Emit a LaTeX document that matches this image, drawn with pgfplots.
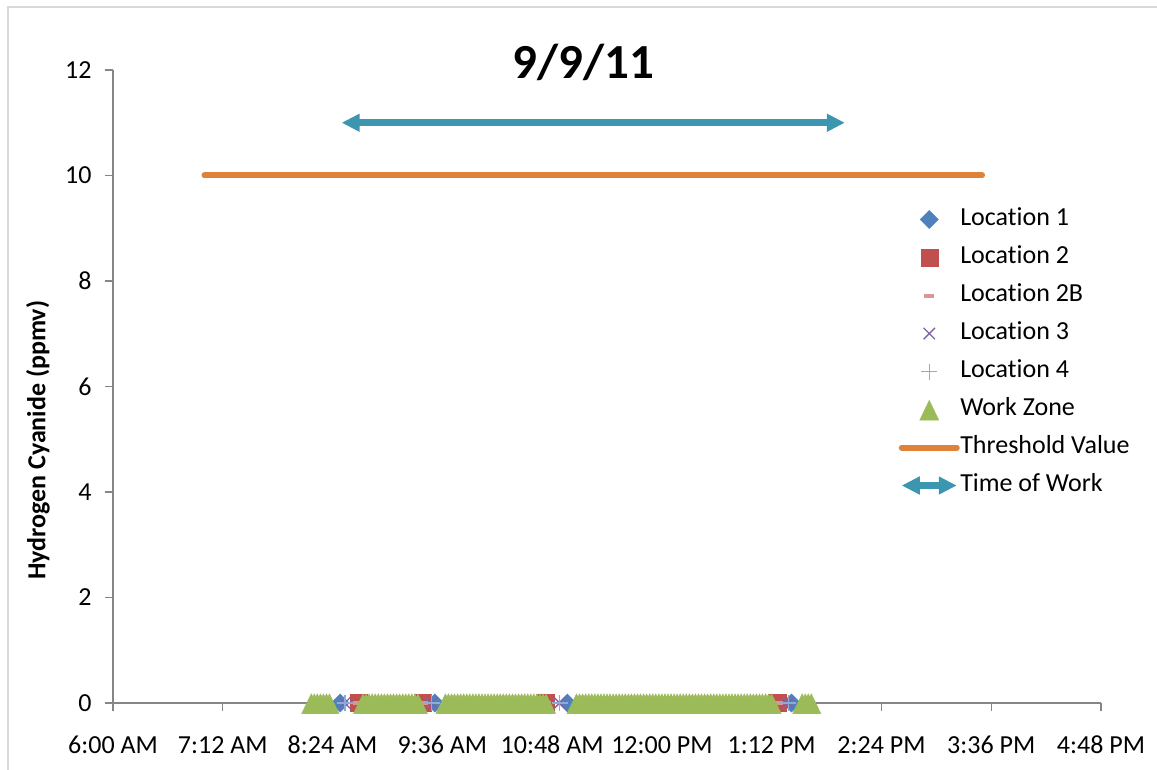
\documentclass[border=0pt]{standalone}
\usepackage{pgfplots}
\pgfplotsset{compat=1.18}
\usetikzlibrary{arrows.meta}
\usepackage{fontspec}
\setmainfont{Carlito}[Ligatures=NoCommon]

\definecolor{locblue}{HTML}{4F81BD}
\definecolor{locred}{HTML}{C0504D}
\definecolor{locpink}{HTML}{D99694}
\definecolor{locpurple}{HTML}{8064A2}
\definecolor{loclight}{HTML}{8EA9DB}
\definecolor{wzgreen}{HTML}{9BBB59}
\definecolor{thresh}{HTML}{DE8239}
\definecolor{workblue}{HTML}{3C96B0}
\definecolor{axgrey}{HTML}{868686}
\definecolor{framegrey}{HTML}{D9D9D9}

\begin{document}
\begin{tikzpicture}
\path[use as bounding box] (-113pt,-66pt) rectangle (1044pt,703pt);
\begin{axis}[
    at={(0,0)}, anchor=origin,
    scale only axis,
    width=988pt, height=633pt,
    xmin=360, xmax=1008,
    ymin=0, ymax=12,
    axis x line=bottom, axis y line=left,
    axis line style={-, draw=axgrey, line width=1.2pt},
    tick style={draw=axgrey, line width=1.2pt},
    tick align=outside,
    major tick length=8pt,
    xtick={360,432,...,1008},
    xticklabels={6:00 AM,7:12 AM,8:24 AM,9:36 AM,10:48 AM,12:00 PM,1:12 PM,2:24 PM,3:36 PM,4:48 PM},
    ytick={0,2,...,12},
    /pgf/number format/assume math mode=true,
    tick label style={font=\fontsize{26}{31}\selectfont},
    xticklabel style={anchor=base, yshift=-42pt},
    yticklabel style={anchor=east, xshift=-10pt},
    ylabel={Hydrogen Cyanide (ppmv)},
    ylabel style={at={(axis description cs:-0.076,0.415)}, anchor=center, font=\fontsize{26}{31}\selectfont\bfseries},
    clip=false,
    legend image code/.code={\draw[mark repeat=2,mark phase=2,#1] plot coordinates {(0pt,0pt) (27.5pt,0pt) (55pt,0pt)};},
    legend cell align=left,
    legend style={at={(rel axis cs:0.7946,0.787)}, anchor=north west, draw=none, fill=none,
        inner sep=0pt, row sep=9pt,
        nodes={inner xsep=0pt, inner ysep=2.5pt, text height=18pt, text depth=6pt},
        font=\fontsize{26}{31}\selectfont},
]
\addplot[only marks, mark=square*, mark size=6.4pt, mark options={rotate=45, fill=locblue, draw=locblue}]
    coordinates {(509,0) (571,0) (658,0) (805,0)};
\addlegendentry{Location 1}
\addplot[only marks, mark=square*, mark size=8.5pt, mark options={fill=locred, draw=locred}]
    coordinates {(521,0) (563,0) (644,0) (796,0)};
\addlegendentry{Location 2}
\addplot[only marks, mark=-, mark size=5pt, mark options={draw=locpink, line width=4pt}]
    coordinates {(521,0) (563,0) (644,0) (796,0)};
\addlegendentry{Location 2B}
\addplot[only marks, mark=x, mark size=8pt, mark options={draw=locpurple, line width=1.4pt}]
    coordinates {(512,0) (569,0) (653,0) (803,0)};
\addlegendentry{Location 3}
\addplot[only marks, mark=+, mark size=8pt, mark options={draw=loclight, line width=1.5pt}]
    coordinates {(512,0) (569,0) (653,0) (803,0)};
\addlegendentry{Location 4}
\addplot[only marks, mark=triangle*, mark size=11pt, mark options={fill=wzgreen, draw=wzgreen, yscale=1.2, yshift=-3.3pt}]
    coordinates {
    (490,0) (492,0) (494,0) (496,0) (498,0) (500,0) (502,0)
    (524,0) (526,0) (528,0) (530,0) (532,0) (534,0) (536,0) (538,0) (540,0) (542,0)
    (544,0) (546,0) (548,0) (550,0) (552,0) (554,0) (556,0) (558,0) (560,0)
    (578,0) (580,0) (582,0) (584,0) (586,0) (588,0) (590,0) (592,0) (594,0) (596,0)
    (598,0) (600,0) (602,0) (604,0) (606,0) (608,0) (610,0) (612,0) (614,0) (616,0)
    (618,0) (620,0) (622,0) (624,0) (626,0) (628,0) (630,0) (632,0) (634,0) (636,0)
    (638,0) (640,0) (642,0) (644,0)
    (664,0) (666,0) (668,0) (670,0) (672,0) (674,0) (676,0) (678,0) (680,0) (682,0)
    (684,0) (686,0) (688,0) (690,0) (692,0) (694,0) (696,0) (698,0) (700,0) (702,0)
    (704,0) (706,0) (708,0) (710,0) (712,0) (714,0) (716,0) (718,0) (720,0) (722,0)
    (724,0) (726,0) (728,0) (730,0) (732,0) (734,0) (736,0) (738,0) (740,0) (742,0)
    (744,0) (746,0) (748,0) (750,0) (752,0) (754,0) (756,0) (758,0) (760,0) (762,0)
    (764,0) (766,0) (768,0) (770,0) (772,0) (774,0) (776,0) (778,0) (780,0) (782,0)
    (784,0) (786,0) (788,0) (790,0) (792,0)
    (812,0) (814,0) (816,0) (818,0)
    };
\addlegendentry{Work Zone}
\addplot[thresh, line width=6pt, line cap=round, mark=none] coordinates {(420,10) (930,10)};
\addlegendentry{Threshold Value}
\addplot[workblue, line width=7pt, mark=none, {Triangle[length=18pt,width=17pt]}-{Triangle[length=18pt,width=17pt]}]
    coordinates {(510,11) (840,11)};
\addlegendentry{Time of Work}
\node[anchor=base, font=\fontsize{49}{58}\selectfont\bfseries] at (axis description cs:0.476,0.987) {9/9/11};
\end{axis}
\draw[framegrey, line width=1.5pt] (-105pt,-150pt) rectangle (1150pt,696pt);
\end{tikzpicture}
\end{document}
